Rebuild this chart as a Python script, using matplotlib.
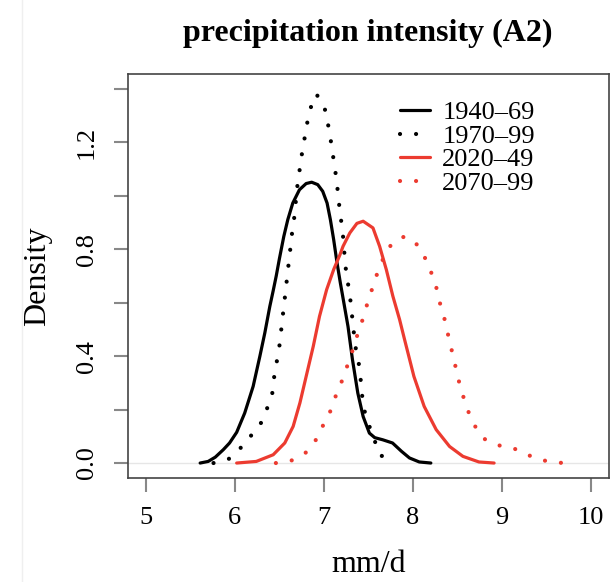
import matplotlib
matplotlib.use("Agg")
import matplotlib.pyplot as plt
from matplotlib.lines import Line2D

# ============================================================
# Data
# ============================================================
x_1940 = [5.61, 5.70, 5.78, 5.87, 5.94, 6.02, 6.11, 6.205, 6.28, 6.336, 6.392, 6.43,
          6.464, 6.50, 6.549, 6.594, 6.65, 6.725, 6.80, 6.862, 6.93, 6.986, 7.035, 7.072,
          7.109, 7.147, 7.184, 7.21, 7.27, 7.32, 7.38, 7.44, 7.51, 7.57, 7.66, 7.77,
          7.87, 7.96, 8.07, 8.20]
y_1940 = [0.0, 0.006, 0.022, 0.050, 0.075, 0.115, 0.187, 0.287, 0.399, 0.487, 0.586, 0.645,
          0.700, 0.765, 0.848, 0.911, 0.973, 1.023, 1.046, 1.051, 1.042, 1.017, 0.973, 0.911,
          0.836, 0.749, 0.674, 0.625, 0.511, 0.387, 0.262, 0.174, 0.112, 0.095, 0.087, 0.075,
          0.044, 0.019, 0.004, 0.0]

x_1970 = [5.76, 5.93, 6.06, 6.18, 6.29, 6.36, 6.42, 6.44, 6.47, 6.50, 6.52, 6.54,
          6.56, 6.58, 6.60, 6.62, 6.64, 6.665, 6.70, 6.725, 6.75, 6.78, 6.81, 6.85,
          6.915, 7.006, 7.043, 7.074, 7.10, 7.126, 7.149, 7.167, 7.189, 7.212, 7.24, 7.268,
          7.294, 7.313, 7.332, 7.351, 7.388, 7.41, 7.425, 7.448, 7.504, 7.567, 7.615, 7.76]
y_1970 = [0.0, 0.015, 0.055, 0.102, 0.148, 0.203, 0.262, 0.320, 0.379, 0.439, 0.498, 0.558,
          0.616, 0.676, 0.736, 0.795, 0.856, 0.915, 1.033, 1.093, 1.152, 1.211, 1.270, 1.329,
          1.381, 1.331, 1.273, 1.213, 1.154, 1.096, 1.036, 0.976, 0.917, 0.858, 0.739, 0.676,
          0.618, 0.559, 0.499, 0.439, 0.380, 0.320, 0.262, 0.203, 0.143, 0.087, 0.035, 0.0]

x_2020 = [6.02, 6.24, 6.43, 6.56, 6.654, 6.73, 6.80, 6.88, 6.95, 7.03, 7.11, 7.18, 7.214,
          7.29, 7.37, 7.44, 7.55, 7.625, 7.70, 7.774, 7.849, 7.905, 8.01, 8.125, 8.26, 8.41,
          8.56, 8.74, 8.91]
y_2020 = [0.0, 0.006, 0.031, 0.075, 0.137, 0.225, 0.324, 0.437, 0.549, 0.649, 0.725, 0.780, 0.811,
          0.861, 0.897, 0.905, 0.880, 0.811, 0.724, 0.624, 0.537, 0.462, 0.324, 0.212, 0.125, 0.062,
          0.025, 0.004, 0.0]

x_2070 = [6.46, 6.64, 6.80, 6.91, 6.99, 7.07, 7.13, 7.20, 7.26, 7.32, 7.37, 7.43, 7.48,
          7.535, 7.59, 7.66, 7.74, 7.875, 7.95, 8.03, 8.13, 8.20, 8.26, 8.30, 8.35, 8.39,
          8.43, 8.47, 8.51, 8.56, 8.615, 8.69, 8.79, 8.95, 9.13, 9.29, 9.455, 9.68]
y_2070 = [0.0, 0.010, 0.040, 0.087, 0.141, 0.193, 0.249, 0.306, 0.362, 0.420, 0.474, 0.533, 0.589,
          0.646, 0.702, 0.761, 0.811, 0.846, 0.845, 0.824, 0.771, 0.717, 0.659, 0.601, 0.544, 0.485,
          0.428, 0.371, 0.312, 0.253, 0.197, 0.141, 0.092, 0.067, 0.055, 0.030, 0.010, 0.0]

labels = ["1940–69", "1970–99", "2020–49", "2070–99"]
x_ticks = [5, 6, 7, 8, 9, 10]
y_ticks = [0.0, 0.2, 0.4, 0.6, 0.8, 1.0, 1.2, 1.4]
y_tick_labels = ["0.0", "", "0.4", "", "0.8", "", "1.2", ""]

# ============================================================
# Style
# ============================================================
plt.rcParams["font.family"] = ["Liberation Serif", "DejaVu Serif"]
RED = "#ec3b30"
LW = 2.3
DOT_LW = 3.0
DOTS = (0, (0.01, 3.84))

fig = plt.figure(figsize=(6.13, 5.82), dpi=100)
ax = fig.add_axes([128 / 613, 1 - 478 / 582, (609 - 128) / 613, (478 - 74) / 582])

# faint zero line, like R's density plot
ax.axhline(0, color="#e6e6e6", lw=1.0, zorder=0)

ax.plot(x_1940, y_1940, color="black", lw=LW, solid_capstyle="round", label=labels[0])
ax.plot(x_1970, y_1970, color="black", lw=DOT_LW, linestyle=DOTS, dash_capstyle="round", label=labels[1])
ax.plot(x_2020, y_2020, color=RED, lw=LW, solid_capstyle="round", label=labels[2])
ax.plot(x_2070, y_2070, color=RED, lw=DOT_LW, linestyle=DOTS, dash_capstyle="round", label=labels[3])

ax.set_xlim(4.8, 10.2)
ax.set_ylim(-0.056, 1.456)
ax.set_xticks(x_ticks)
ax.set_xticklabels([str(v) for v in x_ticks])
ax.set_yticks(y_ticks)
ax.set_yticklabels(y_tick_labels, rotation=90, va="center")

for sp in ax.spines.values():
    sp.set_color("#444444")
    sp.set_linewidth(1.2)
ax.tick_params(axis="both", length=10, width=1.5, color="#888888", labelsize=19)
ax.tick_params(axis="x", pad=11)
ax.tick_params(axis="y", pad=11.5)

ax.set_xlabel("mm/d", fontsize=23, labelpad=15)
ax.set_ylabel("Density", fontsize=23, labelpad=17)
fig.text(368 / 613, 1 - 33 / 582, "precipitation intensity (A2)", fontsize=23,
         fontweight="bold", ha="center", va="center")

ax.legend(loc="upper left", bbox_to_anchor=(400 / 613, 1 - 101 / 582),
          bbox_transform=fig.transFigure, frameon=False, fontsize=19,
          handlelength=1.15, handletextpad=0.45, labelspacing=0.0,
          borderpad=0, borderaxespad=0)

# faint screenshot border on the left
fig.add_artist(Line2D([22 / 613, 22 / 613], [0, 1], color="#efefef", lw=1.0,
                      transform=fig.transFigure))

fig.savefig("out.png", dpi=100)
